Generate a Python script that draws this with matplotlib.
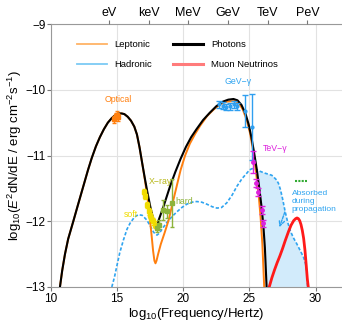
import numpy as np
import matplotlib.pyplot as plt
from matplotlib.lines import Line2D

plt.rcParams['font.family'] = ['Liberation Sans', 'DejaVu Sans']
plt.rcParams['mathtext.fontset'] = 'custom'
plt.rcParams['mathtext.rm'] = 'Liberation Sans'
plt.rcParams['mathtext.it'] = 'Liberation Sans:italic'

# ---- curves (log10 freq, log10 flux) ----
photons_x = [10.68, 10.85, 11.06, 11.3, 11.69, 12.0, 12.4, 12.8, 13.08, 13.4, 13.7, 14.0,
             14.3, 14.6, 14.9, 15.15, 15.35, 15.55, 15.8, 16.05, 16.3, 16.5, 16.7, 16.9,
             17.1, 17.3, 17.5, 17.65, 17.8, 17.9, 17.97, 18.05, 18.2, 18.5, 19.0, 19.4,
             19.8, 20.2, 20.6, 21.0, 21.5, 22.0, 22.5, 23.0, 23.4, 23.8, 24.1, 24.4,
             24.7, 24.95, 25.15, 25.35, 25.55, 25.75, 25.9, 26.05, 26.17, 26.3]
photons_y = [-13.0, -12.75, -12.5, -12.27, -12.0, -11.78, -11.5, -11.22, -11.04, -10.86, -10.72, -10.6,
             -10.5, -10.43, -10.38, -10.36, -10.36, -10.37, -10.41, -10.47, -10.56, -10.68, -10.88, -11.12,
             -11.35, -11.57, -11.77, -11.9, -12.0, -12.05, -12.07, -12.04, -11.95, -11.78, -11.47, -11.25,
             -11.05, -10.87, -10.72, -10.6, -10.46, -10.35, -10.25, -10.18, -10.15, -10.14, -10.16, -10.23,
             -10.36, -10.53, -10.72, -10.95, -11.2, -11.5, -11.75, -12.05, -12.4, -13.0]

lept_x = [10.68, 10.85, 11.06, 11.3, 11.69, 12.0, 12.4, 12.8, 13.08, 13.4, 13.7, 14.0,
          14.3, 14.6, 14.9, 15.15, 15.35, 15.55, 15.8, 16.05, 16.3, 16.5, 16.7, 16.9,
          17.1, 17.3, 17.45, 17.6, 17.72, 17.82, 17.9, 17.98, 18.1, 18.3, 18.6, 18.9,
          19.2, 19.5, 19.8, 20.14, 20.5, 20.9, 21.3, 21.8, 22.3, 22.8, 23.3, 23.9,
          24.2, 24.5, 24.8, 25.05, 25.3, 25.5, 25.7, 25.85, 25.98, 26.12]
lept_y = [-13.0, -12.75, -12.5, -12.27, -12.0, -11.78, -11.5, -11.22, -11.04, -10.86, -10.72, -10.6,
          -10.5, -10.43, -10.38, -10.36, -10.36, -10.37, -10.41, -10.47, -10.56, -10.68, -10.88, -11.12,
          -11.37, -11.65, -11.92, -12.2, -12.45, -12.6, -12.64, -12.6, -12.5, -12.35, -12.17, -11.98,
          -11.72, -11.47, -11.22, -11.0, -10.82, -10.67, -10.54, -10.4, -10.3, -10.22, -10.18, -10.17,
          -10.2, -10.3, -10.46, -10.66, -10.95, -11.25, -11.6, -11.95, -12.35, -13.0]

hadr_x = [14.6, 14.8, 14.97, 15.2, 15.47, 15.75, 15.98, 16.3, 16.6, 16.9, 17.24, 17.5,
          17.74, 17.9, 18.02, 18.2, 18.4, 18.75, 19.1, 19.5, 19.9, 20.27, 20.65, 21.02,
          21.4, 21.78, 22.2, 22.55, 22.9, 23.29, 23.7, 24.05, 24.45, 24.8, 25.0, 25.2,
          25.5, 25.8, 26.2, 26.69, 27.0, 27.19, 27.35, 27.5, 27.7, 27.9, 28.1, 28.35,
          28.6, 28.85, 29.1, 29.25, 29.35, 29.4]
hadr_y = [-13.0, -12.85, -12.69, -12.48, -12.29, -12.12, -12.03, -11.94, -11.9, -11.91, -11.98, -12.07,
          -12.16, -12.2, -12.21, -12.18, -12.12, -12.02, -11.94, -11.86, -11.79, -11.74, -11.71, -11.7,
          -11.71, -11.74, -11.78, -11.8, -11.79, -11.72, -11.6, -11.47, -11.35, -11.27, -11.22, -11.2,
          -11.21, -11.24, -11.27, -11.3, -11.36, -11.42, -11.52, -11.65, -11.85, -12.02, -12.15, -12.26,
          -12.35, -12.45, -12.55, -12.65, -12.8, -13.0]

nu_x = [26.5, 26.7, 26.9, 27.1, 27.3, 27.5, 27.7, 27.95, 28.15, 28.35, 28.5, 28.6,
        28.7, 28.8, 28.9, 29.0, 29.1, 29.2, 29.3, 29.38, 29.45]
nu_y = [-13.0, -12.86, -12.74, -12.63, -12.53, -12.42, -12.3, -12.16, -12.06, -11.99, -11.96, -11.95,
        -11.96, -11.99, -12.05, -12.14, -12.26, -12.44, -12.68, -12.88, -13.0]

# ---- data points ----
opt_x = [14.8, 14.9, 15.0, 15.1]
opt_y = [-10.45, -10.4, -10.38, -10.42]
opt_e = [0.05, 0.05, 0.05, 0.05]

soft_x = [17.0, 17.1, 17.25, 17.4, 17.5, 17.6, 17.75, 17.85]
soft_y = [-11.55, -11.62, -11.75, -11.85, -11.9, -11.95, -12.0, -12.05]
soft_e = [0.04, 0.04, 0.05, 0.05, 0.05, 0.05, 0.05, 0.05]

hard_x = [18.0, 18.2, 18.5, 18.8, 19.13]
hard_y = [-12.1, -12.05, -11.83, -11.85, -11.72]
hard_e = [0.06, 0.07, 0.15, 0.1, 0.36]

gev_x = [22.7, 23.0, 23.2, 23.5, 23.8, 24.1, 24.7, 25.2]
gev_y = [-10.22, -10.24, -10.26, -10.25, -10.22, -10.25, -10.32, -10.57]
gev_e = [0.05, 0.05, 0.05, 0.05, 0.05, 0.05, 0.24, 0.5]

tev_x = [25.3, 25.5, 25.68, 25.94, 26.06]
tev_y = [-11.1, -11.42, -11.55, -11.83, -12.03]
tev_e = [0.17, 0.06, 0.06, 0.06, 0.05]

top_ticks = [14.38, 17.38, 20.38, 23.38, 26.38, 29.38]
top_labels = ["eV", "keV", "MeV", "GeV", "TeV", "PeV"]

c_orange = "#ff7f0e"
c_blue = "#2fa4f0"
c_red = "#ff1a1a"
c_mag = "#dd22dd"

fig = plt.figure(figsize=(3.42, 3.21), dpi=100)
ax = fig.add_axes([0.149, 0.106, 0.851, 0.819])

# absorbed region: under hadronic curve, right of the photon cut-off
hx = np.array(hadr_x); hy = np.array(hadr_y)
px = np.array(photons_x); py = np.array(photons_y)
sel_h = hx >= 25.2
sel_p = px >= 25.55
poly_x = np.concatenate([hx[sel_h], px[sel_p][::-1]])
poly_y = np.concatenate([hy[sel_h], py[sel_p][::-1]])
ax.fill(poly_x, poly_y, color="#d2ebfb", lw=0, zorder=1)

ax.plot(hadr_x, hadr_y, color=c_blue, lw=1.2, ls=(0, (2, 1.2)), zorder=2)
ax.plot(lept_x, lept_y, color=c_orange, lw=1.4, zorder=3)
ax.plot(photons_x, photons_y, color="black", lw=1.5, zorder=4)
ax.plot(nu_x, nu_y, color=c_red, lw=2, zorder=4)

eb = dict(fmt="s", ms=2.5, lw=1, capsize=1.5, zorder=5)
ax.errorbar(opt_x, opt_y, yerr=opt_e, color=c_orange, **eb)
ax.errorbar(soft_x, soft_y, yerr=soft_e, color="#f0dc00", **eb)
ax.errorbar(hard_x, hard_y, yerr=hard_e, color="#8db33a", **eb)
ax.errorbar(gev_x, gev_y, yerr=gev_e, color="#2f9ff0", fmt="o", ms=2, lw=1, capsize=2, zorder=5)
ax.errorbar(tev_x, tev_y, yerr=tev_e, color=c_mag, fmt="o", ms=2.5, lw=1, capsize=2, zorder=5)

ax.plot([28.45, 29.35], [-11.39, -11.39], color="#33aa33", lw=1.5, ls=(0, (1, 0.6)))

fs = 6.3
ax.text(15.1, -10.15, "Optical", color=c_orange, fontsize=fs, ha="center", va="center")
ax.text(16.05, -11.9, "soft", color="#f0dc00", fontsize=fs, ha="center", va="center")
ax.text(18.25, -11.4, "X\u2212ray", color="#b8b81a", fontsize=fs, ha="center", va="center")
ax.text(20.1, -11.7, "hard", color="#8db33a", fontsize=fs, ha="center", va="center")
ax.text(24.15, -9.88, "GeV\u2212\u03b3", color=c_blue, fontsize=fs, ha="center", va="center")
ax.text(26.95, -10.89, "TeV\u2212\u03b3", color=c_mag, fontsize=fs, ha="center", va="center")
ax.text(28.2, -11.7, "Absorbed\nduring\npropagation", color=c_blue, fontsize=6,
        ha="left", va="center", linespacing=1.15)
ax.annotate("", xy=(27.2, -12.13), xytext=(27.75, -11.82),
            arrowprops=dict(arrowstyle="->", color=c_blue, lw=1, ls=(0, (2, 1))))

ax.set_xlim(10, 32)
ax.set_ylim(-13, -9)
ax.set_xticks([10, 15, 20, 25, 30])
ax.set_yticks([-13, -12, -11, -10, -9])
ax.set_yticklabels(["\u221213", "\u221212", "\u221211", "\u221210", "\u22129"])
ax.grid(color="#e2e2e2", lw=0.8)
ax.set_axisbelow(True)
ax.tick_params(labelsize=8.5, length=3, color="#777777", pad=1)
for s in ["left", "bottom", "top"]:
    ax.spines[s].set_color("#999999")
ax.spines["right"].set_visible(False)

ax.set_xlabel("log$_{10}$(Frequency/Hertz)", fontsize=9.5, labelpad=1)
ax.set_ylabel("log$_{10}$($E^2$dN/dE / erg cm$^{-2}$s$^{-1}$)", fontsize=9.5, labelpad=1)

top = ax.twiny()
top.set_xlim(ax.get_xlim())
top.set_xticks(top_ticks)
top.set_xticklabels(top_labels)
top.tick_params(labelsize=9, length=3, color="#777777", pad=1)
for s in top.spines.values():
    s.set_visible(False)

handles = [
    Line2D([], [], color="#ffb366", lw=1.3),
    Line2D([], [], color="#7ccaf5", lw=1.3),
    Line2D([], [], color="black", lw=2.2),
    Line2D([], [], color="#ff7b7b", lw=2.2),
]
labels = ["Leptonic", "Hadronic", "Photons", "Muon Neutrinos"]
ax.legend(handles, labels, ncol=2, frameon=False, fontsize=6.8, loc="upper left",
          bbox_to_anchor=(0.06, 0.97), handlelength=3.2, columnspacing=2.2, labelspacing=1.1)

fig.savefig("out.png", dpi=100)
